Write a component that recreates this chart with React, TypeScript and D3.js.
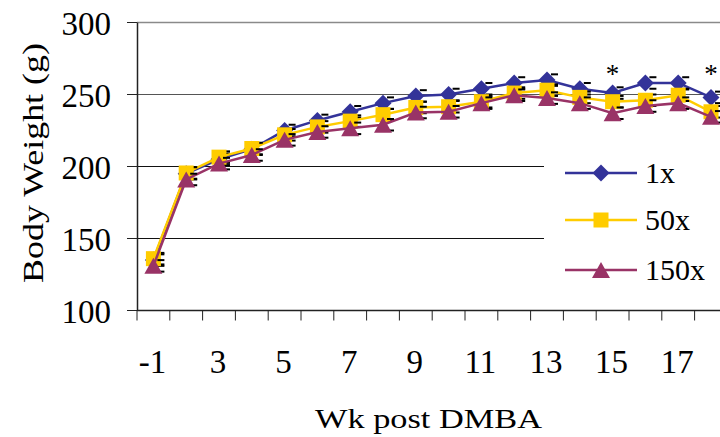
import React from "react";
import * as d3 from "d3";

const weeks = ["-1", "2", "3", "4", "5", "6", "7", "8", "9", "10", "11", "12", "13", "14", "15", "16", "17", "18"];
const shownLabels = ["-1", "3", "5", "7", "9", "11", "13", "15", "17"];
const yTicks = [100, 150, 200, 250, 300];
const s1x = [135, 195, 205, 212, 225, 232, 238, 244, 249, 250, 254, 258, 260, 254, 251, 258, 258, 248];
const s50x = [136, 195.5, 206.5, 212.5, 222, 227.5, 231.5, 236, 241, 241.5, 245, 251, 253, 248, 245, 246, 249.5, 238];
const s150x = [131, 191, 202, 208, 218.5, 224, 226.5, 229, 237.5, 238, 244, 249.5, 247.5, 244, 237, 242, 244, 234.5];
const errSize = [4, 4, 4];
const seriesNames = ["1x", "50x", "150x"];
const significant = ["15", "18"];

const colors = ["#333399", "#FFCC00", "#993366"];
const FONT = "Liberation Serif, Times New Roman, Times, serif";

function Marker({ kind, x, y, color }: { kind: number; x: number; y: number; color: string }) {
  if (kind === 0) {
    const r = 8.5;
    return <path d={`M${x},${y - r}L${x + r},${y}L${x},${y + r}L${x - r},${y}Z`} fill={color} />;
  }
  if (kind === 1) {
    const h = 7.5;
    return <rect x={x - h} y={y - h} width={2 * h} height={2 * h} fill={color} />;
  }
  const w = 9, h = 8;
  return <path d={`M${x},${y - h}L${x + w},${y + h}L${x - w},${y + h}Z`} fill={color} />;
}

export default function App() {
  const x = d3.scaleBand<string>().domain(weeks).range([137, 137 + 18 * 32.8]);
  const y = d3.scaleLinear().domain([100, 300]).range([310.5, 22.5]);
  const cx = (w: string) => (x(w) as number) + x.bandwidth() / 2;
  const allSeries = [s1x, s50x, s150x];
  const line = d3.line<number>().x((_, i) => cx(weeks[i])).y((d) => y(d));
  const x0 = 137, x1 = 137 + 18 * 32.8;
  const tickXs = d3.range(weeks.length + 1).map((i) => x0 + i * x.step());
  const txt = { fontFamily: FONT };

  return (
    <svg width={720} height={437} style={{ position: "absolute", left: 0, top: 0, background: "#fff", fontFamily: FONT }}>
      <rect x={0} y={0} width={720} height={437} fill="#fff" />
      <line x1={x0} x2={x1} y1={y(300)} y2={y(300)} stroke="#8a8a8a" strokeWidth={1.5} />
      {yTicks.filter((t) => t > 100 && t < 300).map((t) => (
        <line key={t} x1={x0} x2={x1} y1={y(t)} y2={y(t)} stroke={t === 250 ? "#555" : "#111"} strokeWidth={1} />
      ))}
      <rect x={544} y={135} width={190} height={168} fill="#fff" />
      <line x1={x0 + 0.5} x2={x0 + 0.5} y1={y(300)} y2={y(100)} stroke="#222" strokeWidth={1.5} />
      <line x1={x0} x2={x1} y1={y(100)} y2={y(100)} stroke="#222" strokeWidth={1.5} />
      {yTicks.map((t) => (
        <g key={t}>
          <line x1={127} x2={x0} y1={y(t)} y2={y(t)} stroke="#222" strokeWidth={1} />
          <text style={txt} x={111} y={y(t) + 12.5} textAnchor="end" fontSize={33} fill="#000">{t}</text>
        </g>
      ))}
      {tickXs.map((tx, i) => (
        <line key={i} x1={tx} x2={tx} y1={y(100)} y2={y(100) + 10} stroke="#222" strokeWidth={1} />
      ))}
      {shownLabels.map((w) => (
        <text style={txt} key={w} x={cx(w) - 1} y={372.5} textAnchor="middle" fontSize={33} fill="#000">{w}</text>
      ))}
      <text style={txt} x={315} y={427.5} fontSize={27} textLength={227} lengthAdjust="spacingAndGlyphs" fill="#000">Wk post DMBA</text>
      <text style={txt} transform="translate(42.5,283) rotate(-90)" x={0} y={0} fontSize={30} textLength={240} lengthAdjust="spacingAndGlyphs" fill="#000">Body Weight (g)</text>
      {allSeries.map((s, si) => (
        <g key={si}>
          <path d={line(s) || ""} fill="none" stroke={colors[si]} strokeWidth={2.5} />
          {s.map((v, i) => {
            const px = cx(weeks[i]);
            const e = y(v) - y(v + errSize[si]);
            return (
              <g key={i}>
                <line x1={px + 4} x2={px + 11} y1={y(v) - e} y2={y(v) - e} stroke="#000" strokeWidth={2} />
                <line x1={px + 4} x2={px + 11} y1={y(v) + e} y2={y(v) + e} stroke="#000" strokeWidth={2} />
              </g>
            );
          })}
          {s.map((v, i) => (
            <Marker key={i} kind={si} x={cx(weeks[i])} y={y(v)} color={colors[si]} />
          ))}
        </g>
      ))}
      {significant.map((w) => (
        <text style={txt} key={w} x={cx(w)} y={83} textAnchor="middle" fontSize={27} fill="#000">*</text>
      ))}
      {seriesNames.map((n, i) => {
        const ly = [173, 220, 270][i];
        return (
          <g key={n}>
            <line x1={565} x2={637} y1={ly} y2={ly} stroke={colors[i]} strokeWidth={2.5} />
            <Marker kind={i} x={601} y={ly} color={colors[i]} />
            <text style={txt} x={645} y={ly + 9.5} fontSize={30} fill="#000">{n}</text>
          </g>
        );
      })}
    </svg>
  );
}
